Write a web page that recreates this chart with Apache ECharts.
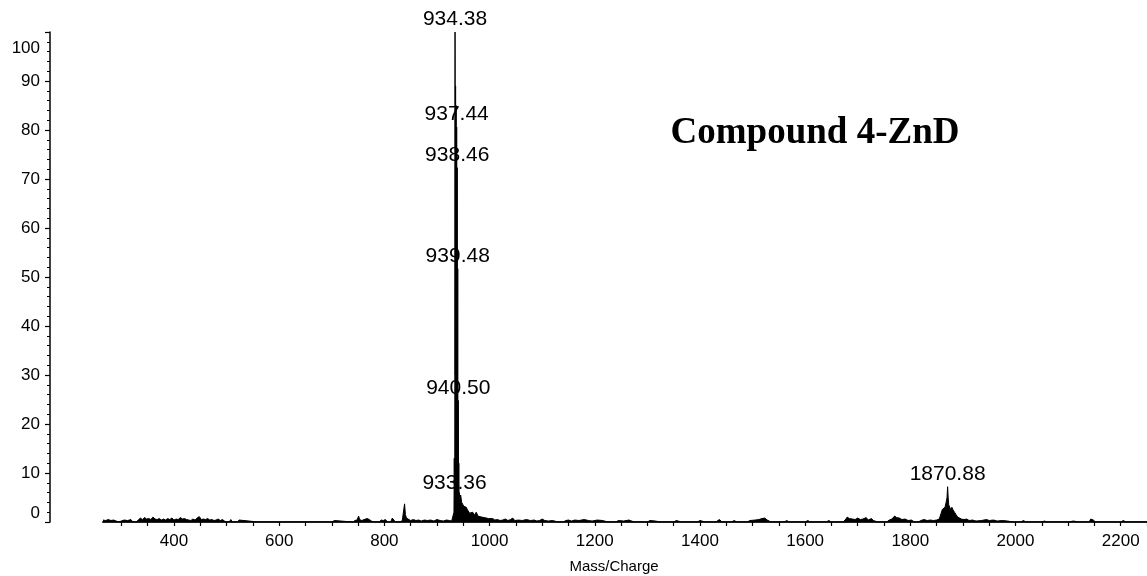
<!DOCTYPE html>
<html>
<head>
<meta charset="utf-8">
<script src="https://cdn.jsdelivr.net/npm/echarts@6/dist/echarts.min.js"></script>
<style>html,body{margin:0;padding:0;background:#fff}#c{width:1147px;height:576px}</style>
</head>
<body>
<div id="c"></div>
<script>
// ---- data (m/z, relative intensity %) ----
const titleText = 'Compound 4-ZnD';
const xAxisName = 'Mass/Charge';
const xMin = 265, xMax = 2250;
const xTickLabels = [400, 600, 800, 1000, 1200, 1400, 1600, 1800, 2000, 2200];
const yTickLabels = [0, 10, 20, 30, 40, 50, 60, 70, 80, 90, 100];

const lowMassNoise = [
  [265,0.4],[270,0.3],[275,0.5],[280,0.3],[285,0.4],[288,0],[295,0],[298,0.3],[305,0.4],[312,0.3],[318,0.5],[322,0],
  [328,0],[332,0.4],[336,0.8],[340,0.5],[344,0.9],[348,0.6],[352,0.7],[356,0.5],[360,1.0],[364,0.6],[368,0.5],[372,0.7],
  [376,0.4],[380,0.6],[384,0.4],[388,0.7],[392,0.5],[396,0.8],[400,0.4],[404,0.6],[408,0.5],[412,0.9],[416,0.6],[420,0.7],
  [424,0.5],[428,0.4],[432,0.3],[436,0.6],[440,0.4],[444,0.8],[448,1.1],[452,0.5],[456,0.6],[460,0.5],[464,0.7],[468,0.4],
  [472,0.5],[476,0.3],[480,0.4],[484,0.6],[488,0.3],[492,0.5],[496,0.2],[500,0],[505,0],[508,0.5],[511,0],[520,0],
  [524,0.4],[527,0],[560,0],[563,0.3],[566,0],[612,0],[615,0.4],[618,0],[700,0],[705,0.3],[708,0],[740,0],
  [744,0.3],[748,0.4],[751,1.2],[753,0.5],[757,0.3],[760,0.2],[764,0.6],[766,1.0],[768,0.7],[771,0.5],[774,0.3],[778,0],
  [790,0],[794,0.4],[798,0.3],[802,0.5],[806,0],[812,0],[815,0.8],[818,0.5],[821,0],[830,0],[834,0.3],[836,0.5],
  [838.4,3.7],[840,1.5],[842,0.8],[845,0.4],[850,0.3],[855,0.5],[860,0.3],[865,0.4],[870,0.2],[876,0.4],[882,0.3],
  [888,0.4],[894,0.2],[900,0.5],[906,0.3],[912,0.2],[918,0.4],[924,0.3],[928,0.2],[931.5,0.3]
];

const monomerCluster = [
  [932.3,2.0],[932.9,13.0],[933.36,5.3],[933.8,4.0],[934.38,100],[934.9,30],[935.40,89],[935.9,30],
  [936.42,85],[936.9,25],[937.44,80.6],[937.9,20],[938.46,72.3],[938.9,15],[939.48,51.7],[939.9,10],
  [940.50,24.8],[941.0,6],[941.5,12],[942.0,5],[942.5,6],[943.5,4.5],[945,5.5],[947,4.0],[949,3.9],
  [951,3.2],[953,3.5],[955.7,3.0],[958,2.5],[960,2.2],[962,1.8],[965,1.5],[968,2.0],[971,1.4],
  [974.7,2.0],[978,1.2],[981,1.5],[985,1.0],[990,0.9],[993.7,1.0],[998,0.7],[1006,0.7],[1010,0.4]
];

const midMassNoise = [
  [1015,0.5],[1020,0.3],[1025,0.4],[1030,0.6],[1035,0.3],[1040,0.5],[1044,0.8],[1048,0.3],[1055,0.4],[1062,0.3],
  [1070,0.5],[1078,0.3],[1085,0.4],[1090,0.2],[1095,0.3],[1100,0.6],[1105,0.3],[1112,0.2],[1120,0.3],[1130,0],
  [1140,0],[1145,0.3],[1150,0.4],[1156,0.2],[1162,0.4],[1170,0.3],[1180,0.5],[1188,0.3],[1195,0.2],[1205,0.4],
  [1215,0.3],[1225,0],[1240,0],[1245,0.3],[1255,0.2],[1265,0.4],[1275,0],[1300,0],[1305,0.3],[1315,0.2],
  [1325,0],[1350,0],[1355,0.3],[1365,0],[1395,0],[1400,0.3],[1410,0],[1430,0],[1437,0.5],[1442,0],
  [1460,0],[1465,0.3],[1470,0],[1490,0],[1495,0.3],[1505,0.4],[1512,0.5],[1518,0.7],[1523,0.8],[1528,0.4],
  [1535,0],[1560,0],[1565,0.3],[1570,0],[1600,0],[1605,0.3],[1610,0],[1640,0],[1645,0.3],[1650,0],
  [1672,0],[1676,0.4],[1680,1.0],[1684,0.7],[1690,0.6],[1695,0.5],[1700,0.8],[1705,0.5],[1710,0.6],[1716,0.9],
  [1720,0.4],[1726,0.7],[1730,0.3],[1738,0],[1755,0],[1760,0.4],[1765,0.6],[1770,1.2],[1774,0.9],[1779,0.8],
  [1784,0.5],[1790,0.6],[1796,0.3],[1802,0.4],[1808,0],[1815,0],[1820,0.3],[1826,0.5],[1832,0.3],[1838,0.4],
  [1844,0.3],[1850,0.4],[1855,0.6],[1858,0.8]
];

const dimerCluster = [
  [1861,2.6],[1864,2.8],[1866,3.0],[1868,4.0],[1869.8,5.0],[1870.88,7.2],[1872,5.0],[1873,3.5],[1875,3.0],
  [1877,2.5],[1879,3.0],[1881,2.5],[1884,2.0],[1887,1.5],[1890,1.0],[1893,0.8],[1897,0.6]
];

const highMassNoise = [
  [1902,0.5],[1907,0.6],[1912,0.3],[1918,0.4],[1925,0.2],[1935,0.3],[1945,0.5],[1950,0.3],[1958,0.4],[1965,0.2],
  [1975,0.3],[1985,0.2],[1995,0],[2010,0],[2015,0.3],[2020,0],[2050,0],[2055,0.2],[2060,0],[2100,0],
  [2110,0.2],[2120,0],[2140,0],[2143,0.6],[2145,1.0],[2148,0.4],[2152,0],[2200,0],[2205,0.3],[2210,0],[2250,0]
];

const labelledPeaks = [
  [934.38,100],[937.44,80.6],[938.46,72.3],[939.48,51.7],[940.50,24.8],[933.36,5.3],[1870.88,7.2]
];

// ---- build ----
const spectrum = [].concat(lowMassNoise, monomerCluster, midMassNoise, dimerCluster, highMassNoise)
  .sort((a, b) => a[0] - b[0]);
const minorTicks = [];
for (let v = 300; v <= 2250; v += 50) minorTicks.push(v);

const sans = '"Liberation Sans", Arial, sans-serif';
const chart = echarts.init(document.getElementById('c'), null, {renderer: 'canvas'});
chart.setOption({
  animation: false,
  backgroundColor: '#fff',
  title: {
    text: titleText,
    left: 810, top: 110, textAlign: 'center',
    textStyle: {fontFamily: '"Liberation Serif", "Times New Roman", serif', fontWeight: 'bold', fontSize: 37, color: '#000'}
  },
  grid: {left: 103, right: 0, top: 32, bottom: 54, containLabel: false, outerBoundsMode: 'none'},
  xAxis: {
    type: 'value', min: xMin, max: xMax,
    name: xAxisName, nameLocation: 'middle', nameGap: 37,
    nameTextStyle: {fontFamily: sans, fontSize: 15, color: '#000', padding: [0, 22, 0, 0]},
    axisLine: {show: true, onZero: false, lineStyle: {color: '#222', width: 2}},
    axisTick: {show: true, length: 4, inside: false, customValues: minorTicks, lineStyle: {color: '#000', width: 1.2}},
    axisLabel: {customValues: xTickLabels, formatter: v => String(v), fontFamily: sans, fontSize: 17, color: '#000', margin: 11},
    splitLine: {show: false}
  },
  yAxis: {
    type: 'value', min: 0, max: 100, interval: 10, offset: 53,
    axisLine: {show: true, lineStyle: {color: '#000', width: 1.5}},
    axisTick: {show: true, length: 5, lineStyle: {color: '#000', width: 1.2}},
    minorTick: {show: true, splitNumber: 5, length: 3, lineStyle: {color: '#000', width: 1}},
    axisLabel: {
      fontFamily: sans, fontSize: 17, color: '#000', margin: 10,
      customValues: yTickLabels, padding: [8, 0, 0, 0],
      verticalAlignMinLabel: 'bottom', verticalAlignMaxLabel: 'top'
    },
    splitLine: {show: false}
  },
  series: [
    {
      name: 'spectrum', type: 'line', data: spectrum, showSymbol: false, symbol: 'none',
      sampling: null, smooth: false,
      lineStyle: {color: '#000', width: 1},
      areaStyle: {color: '#000', opacity: 1},
      z: 3
    },
    {
      name: 'labels', type: 'scatter', data: labelledPeaks, symbolSize: 0, silent: true,
      itemStyle: {opacity: 1, color: '#000'},
      label: {
        show: true, position: 'top', distance: 2, opacity: 1,
        formatter: p => p.value[0].toFixed(2),
        fontFamily: sans, fontSize: 21, color: '#000'
      },
      z: 5
    }
  ]
});
</script>
</body>
</html>
